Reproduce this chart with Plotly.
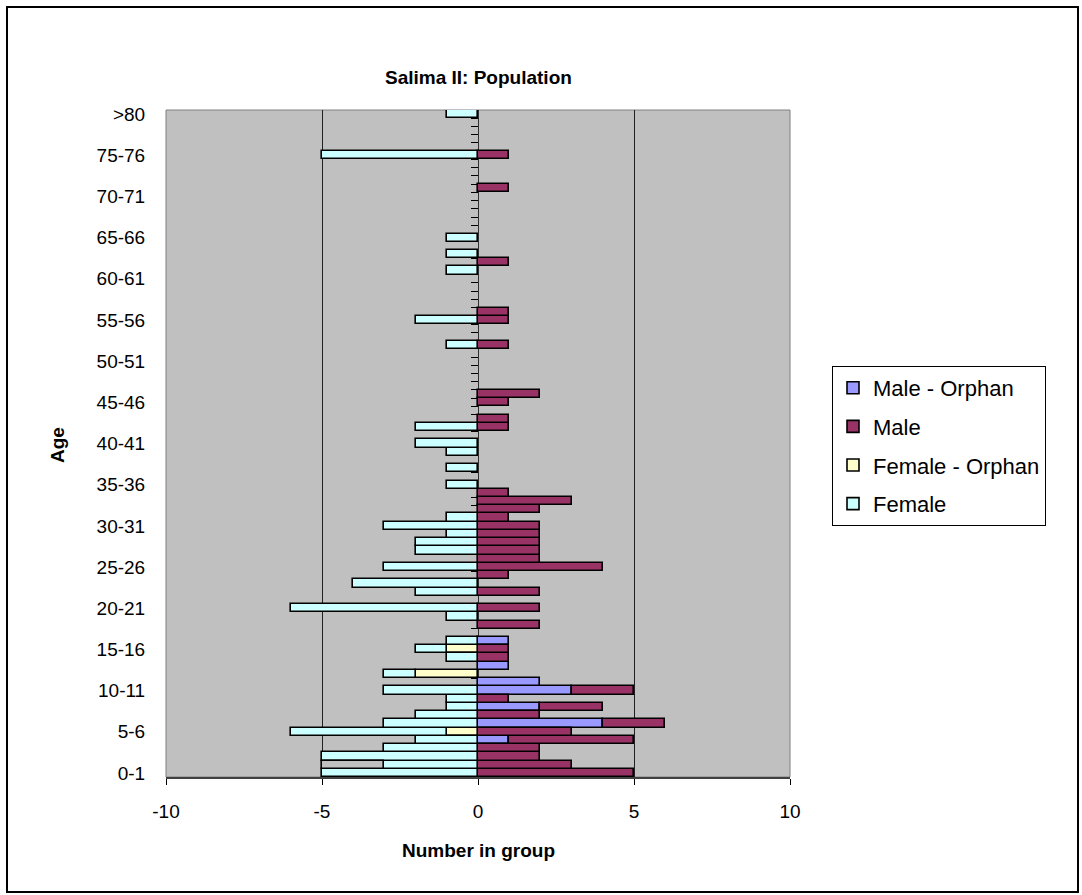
import plotly.graph_objects as go

# ---- data (index 0 = "0-1" ... 79 = "79-80", 80 = ">80") ----
age_labels = [f"{i}-{i+1}" for i in range(80)] + [">80"]
label_step = 5

female = [
    5, 3, 5, 3, 2, 5, 3, 2, 1, 1,
    3, 0, 1, 0, 1, 1, 1, 0, 0, 1,
    6, 0, 2, 4, 0, 3, 0, 2, 2, 1,
    3, 1, 0, 0, 0, 1, 0, 1, 0, 1,
    2, 0, 2, 0, 0, 0, 0, 0, 0, 0,
    0, 0, 1, 0, 0, 2, 0, 0, 0, 0,
    0, 1, 0, 1, 0, 1, 0, 0, 0, 0,
    0, 0, 0, 0, 0, 5, 0, 0, 0, 0,
    1,
]
female_orphan = [
    0, 0, 0, 0, 0, 1, 0, 0, 0, 0,
    0, 0, 2, 0, 0, 1, 0, 0, 0, 0,
] + [0] * 61
female_other = [0, 2] + [0] * 79   # unlabelled grey segment
male_orphan = [
    0, 0, 0, 0, 1, 0, 4, 0, 2, 0,
    3, 2, 0, 1, 0, 0, 1, 0, 0, 0,
] + [0] * 61
male = [
    5, 3, 2, 2, 4, 3, 2, 2, 2, 1,
    2, 0, 0, 0, 1, 1, 0, 0, 2, 0,
    2, 0, 2, 0, 1, 4, 2, 2, 2, 2,
    2, 1, 2, 3, 1, 0, 0, 0, 0, 0,
    0, 0, 1, 1, 0, 1, 2, 0, 0, 0,
    0, 0, 1, 0, 0, 1, 1, 0, 0, 0,
    0, 0, 1, 0, 0, 0, 0, 0, 0, 0,
    0, 1, 0, 0, 0, 1, 0, 0, 0, 0,
    0,
]
x_ticks = [-10, -5, 0, 5, 10]

idx = list(range(len(age_labels)))


def pos(vals):
    return [v if v else None for v in vals]


def neg(vals):
    return [-v if v else None for v in vals]


FONT = "Liberation Sans, Arial, sans-serif"
W, H = 1082, 895
PL, PR, PT, PB = 166, 790, 110, 777  # plot area in pixels


def px2x(px):
    return (px - PL) / (PR - PL)


def px2y(py):
    return (PB - py) / (PB - PT)


line = dict(color="black", width=1.6)
fig = go.Figure()
series = [
    ("Male - Orphan", pos(male_orphan), "#9999FF", True),
    ("Male", pos(male), "#993366", True),
    ("Female - Orphan", neg(female_orphan), "#FFFFCC", True),
    ("Female", neg(female), "#CCFFFF", True),
    ("other", neg(female_other), "#C0C0C0", False),
]
for name, vals, col, leg in series:
    fig.add_trace(go.Bar(
        x=vals, y=idx, orientation="h", name=name,
        marker=dict(color=col, line=line),
        showlegend=leg, legendgroup=name,
    ))

# dummy trace for the zero category axis
fig.add_trace(go.Scatter(x=[None], y=[None], yaxis="y2", showlegend=False,
                         hoverinfo="skip"))

n = len(age_labels)
fig.update_layout(
    width=W, height=H,
    margin=dict(l=PL, r=W - PR, t=PT, b=H - PB),
    barmode="relative", bargap=0.0,
    plot_bgcolor="#C0C0C0", paper_bgcolor="white",
    font=dict(family=FONT, size=19, color="black"),
    showlegend=True,
    legend=dict(
        x=px2x(832), y=px2y(366), xanchor="left", yanchor="top",
        bordercolor="black", borderwidth=1, bgcolor="white",
        font=dict(size=22), traceorder="grouped", tracegroupgap=7,
    ),
    xaxis=dict(
        range=[-10, 10], tickvals=x_ticks, ticktext=[str(t) for t in x_ticks],
        ticks="outside", ticklen=6, tickcolor="black", tickwidth=1,
        showline=True, linecolor="#404040", linewidth=2,
        showgrid=True, gridcolor="#202020", gridwidth=1,
        zeroline=False, ticklabelstandoff=10,
        tickfont=dict(size=19),
    ),
    yaxis=dict(
        range=[-0.5, n - 0.5],
        tickvals=idx[::label_step] + ([n - 1] if (n - 1) % label_step else []),
        ticktext=age_labels[::label_step] + ([age_labels[-1]] if (n - 1) % label_step else []),
        ticks="outside", ticklen=16, tickcolor="rgba(0,0,0,0)",
        showline=False, showgrid=False, zeroline=False,
        tickfont=dict(size=19),
    ),
    yaxis2=dict(
        overlaying="y", anchor="free", position=px2x(478), side="left",
        range=[-0.5, n - 0.5], tickvals=[i - 0.5 for i in range(n + 1)],
        ticks="outside", ticklen=7, tickcolor="black", tickwidth=1,
        showticklabels=False, showline=True, linecolor="#303030", linewidth=1,
        showgrid=False, zeroline=False, layer="below traces",
    ),
    shapes=[
        dict(type="rect", xref="paper", yref="paper", x0=0, y0=0, x1=1, y1=1,
             line=dict(color="#808080", width=1), layer="below"),
        dict(type="rect", xref="paper", yref="paper",
             x0=px2x(7), x1=px2x(1078), y0=px2y(892), y1=px2y(7),
             line=dict(color="black", width=2), layer="above"),
    ],
    annotations=[
        dict(text="<b>Salima II: Population</b>", xref="paper", yref="paper",
             x=0.5, y=px2y(77), xanchor="center", yanchor="middle",
             showarrow=False, font=dict(size=19)),
        dict(text="<b>Number in group</b>", xref="paper", yref="paper",
             x=0.5, y=px2y(850), xanchor="center", yanchor="middle",
             showarrow=False, font=dict(size=19)),
        dict(text="<b>Age</b>", xref="paper", yref="paper",
             x=px2x(57), y=px2y(445), xanchor="center", yanchor="middle",
             textangle=-90, showarrow=False, font=dict(size=19)),
    ],
)

fig.write_html("out.html")
